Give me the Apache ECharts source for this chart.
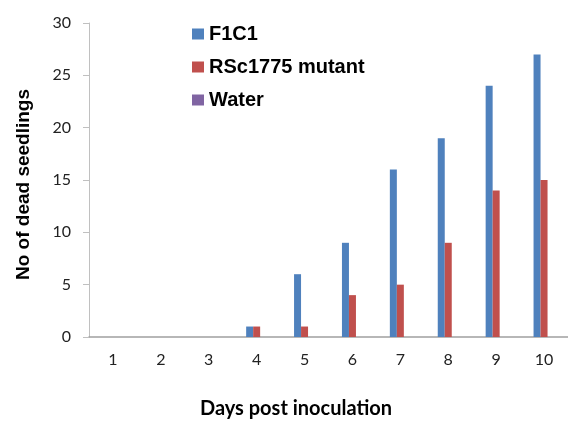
<!DOCTYPE html>
<html><head><meta charset="utf-8">
<script src="https://cdn.jsdelivr.net/npm/echarts@6/dist/echarts.min.js"></script>
<style>html,body{margin:0;padding:0;background:#fff}#c{width:568px;height:424px}</style>
</head><body><div id="c"></div>
<script>
var categories = ['1','2','3','4','5','6','7','8','9','10'];
var f1c1 = [0,0,0,1,6,9,16,19,24,27];
var rsc1775 = [0,0,0,1,1,4,5,9,14,15];
var water = [0,0,0,0,0,0,0,0,0,0];
var yTicks = [0,5,10,15,20,25,30];
var chart = echarts.init(document.getElementById('c'));
chart.setOption({
  animation:false,
  backgroundColor:'#fff',
  grid:{left:89,top:23,width:480,height:319,containLabel:false},
  legend:{
    orient:'vertical', left:187, top:19, itemWidth:12, itemHeight:11, itemGap:13,
    icon:'rect',
    textStyle:{fontFamily:'Liberation Sans, Arial',fontWeight:'bold',fontSize:20,color:'#000',lineHeight:20},
    data:['F1C1','RSc1775 mutant','Water']
  },
  xAxis:{
    type:'category', data:categories,
    name:'Days post inoculation', nameLocation:'middle', nameGap:62,
    nameTextStyle:{fontFamily:'Lato, Liberation Sans',fontWeight:'bold',fontSize:20,color:'#000',padding:[0,65,0,0]},
    axisLine:{lineStyle:{color:'#a0a0a0',width:1.5}},
    axisTick:{show:false},
    axisLabel:{fontFamily:'Lato, Open Sans',fontSize:16,color:'#222',margin:15}
  },
  yAxis:{
    type:'value', min:0, max:30, interval:5,
    name:'No of dead seedlings', nameLocation:'middle', nameGap:56,
    nameTextStyle:{fontFamily:'Liberation Sans, Arial',fontWeight:'bold',fontSize:19,color:'#000',padding:[0,9,0,0]},
    axisLine:{show:true,lineStyle:{color:'#c0c0c0'}},
    axisTick:{show:true,length:6,lineStyle:{color:'#c0c0c0'}},
    splitLine:{show:false},
    axisLabel:{fontFamily:'Lato, Open Sans',fontSize:16,color:'#222',margin:18,
      formatter:function(v){return yTicks.indexOf(v)>=0?String(v):'';}}
  },
  series:[
    {name:'F1C1',type:'bar',data:f1c1,barWidth:7,barGap:'0%',itemStyle:{color:'#4F81BD'}},
    {name:'RSc1775 mutant',type:'bar',data:rsc1775,barWidth:7,barGap:'0%',itemStyle:{color:'#C0504D'}},
    {name:'Water',type:'bar',data:water,barWidth:7,barGap:'0%',itemStyle:{color:'#8064A2'}}
  ]
});
</script></body></html>
